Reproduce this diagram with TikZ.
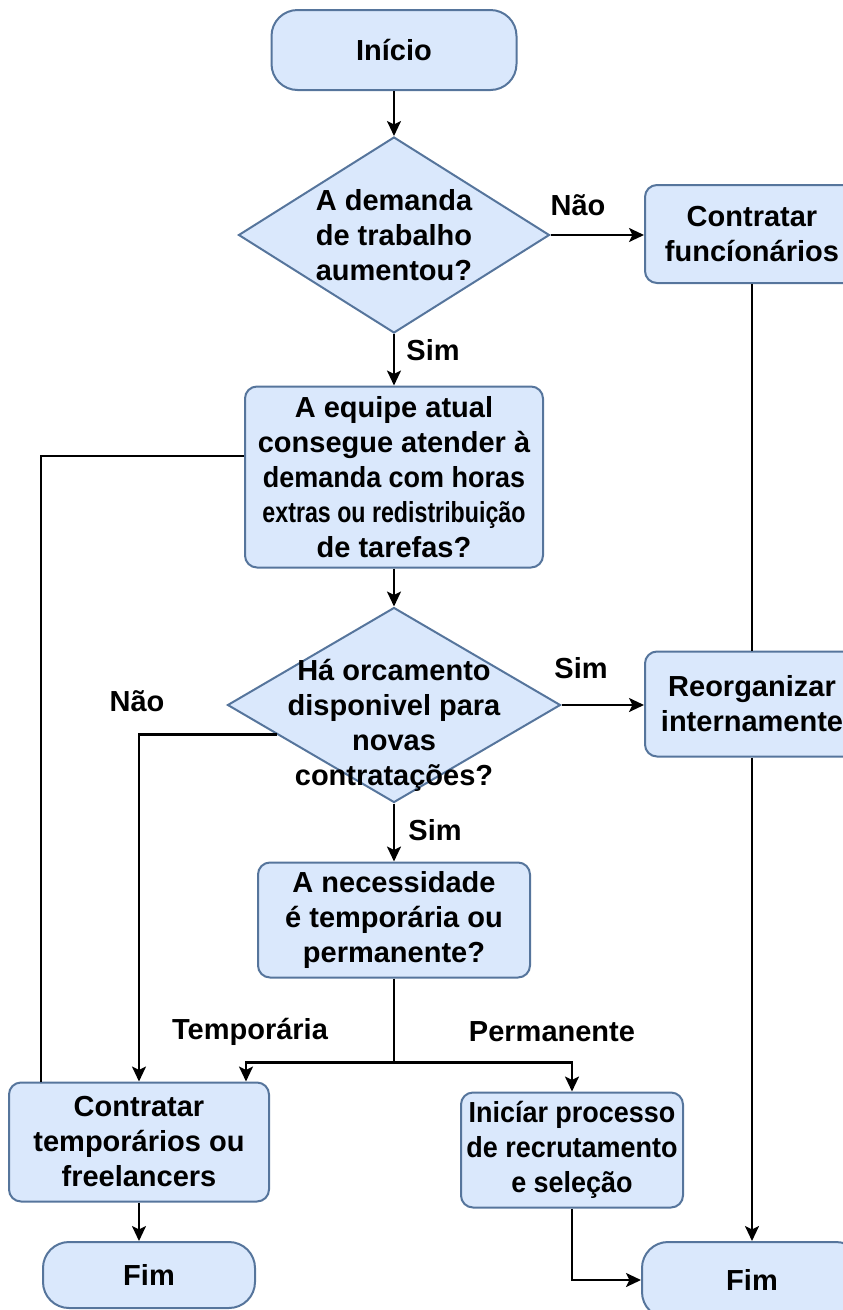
\documentclass[tikz,border=0pt]{standalone}
\usepackage{fontspec}
\setmainfont{Liberation Sans}
\newfontfamily\narrowfont{Liberation Sans}[FakeStretch=0.8]
\newfontfamily\slimfont{Liberation Sans}[FakeStretch=0.93]
\usetikzlibrary{arrows.meta,shapes.geometric,calc}
\definecolor{boxfill}{HTML}{DAE8FC}
\definecolor{boxline}{HTML}{56759C}

\begin{document}
\begin{tikzpicture}[x=1pt, y=-1pt, >={Stealth[length=15pt,width=14pt,inset=3.5pt]},
  every node/.style={font=\bfseries\fontsize{29}{35}\selectfont, align=center},
  flowbox/.style={draw=boxline, fill=boxfill, line width=2pt, rounded corners=12pt, inner sep=0pt},
  termbox/.style={flowbox, rounded corners=26pt},
  decision/.style={draw=boxline, fill=boxfill, line width=2pt, diamond, inner sep=0pt},
  arrowline/.style={line width=2.4pt}]
  \clip (0,0) rectangle (843,1310);

  % boxes
  \node[termbox, minimum width=245pt, minimum height=80pt] (start) at (394,50) {Início};
  \node[decision, minimum width=311pt, minimum height=196pt] (dem) at (394,235) {};
  \node (demtext) at (dem) {A demanda\\de trabalho\\aumentou?};
  \node[flowbox, minimum width=214pt, minimum height=98pt] (hire) at (752,234) {Contratar\\funcíonários};
  \node[flowbox, minimum width=298pt, minimum height=181pt] (team) at (394,477)
    {A equipe atual\\consegue atender à\\{\slimfont demanda com horas}\\{\narrowfont extras ou redistribuição}\\de tarefas?};
  \node[decision, minimum width=333pt, minimum height=195pt] (budget) at (394,705) {};
  \node (budgettext) at (394,725) {Há orcamento\\disponivel para\\novas\\contratações?};
  \node[flowbox, minimum width=214pt, minimum height=105pt] (reorg) at (752,704) {Reorganizar\\internamente};
  \node[flowbox, minimum width=272pt, minimum height=115pt] (need) at (394,920) {A necessidade\\é temporária ou\\permanente?};
  \node[flowbox, minimum width=260pt, minimum height=119pt] (temp) at (139,1142) {Contratar\\temporários ou\\freelancers};
  \node[flowbox, minimum width=222pt, minimum height=115pt, font=\slimfont\bfseries\fontsize{29}{35}\selectfont] (recruit) at (572,1150)
    {Inicíar processo\\de recrutamento\\e seleção};
  \node[termbox, minimum width=212pt, minimum height=66pt] (endL) at (149,1275) {Fim};
  \node[termbox, minimum width=220pt, minimum height=76pt] (endR) at (752,1280) {Fim};

  % labels
  \node (noA) at (578,205) {Não};
  \node (yesA) at (433,350) {Sim};
  \node (yesB) at (581,668) {Sim};
  \node (noB) at (137,701) {Não};
  \node (yesC) at (435,830) {Sim};
  \node (tempLbl) at (250,1032) {Temporária};
  \node (permLbl) at (552,1032) {Permanente};

  % connectors
  \draw[arrowline, ->] (start.south) -- (dem.north);
  \draw[arrowline, ->] (dem.east) -- (dem.east -| hire.west);
  \draw[arrowline] (hire.south) -- (reorg.north);
  \draw[arrowline, ->] (dem.south) -- (team.north);
  \draw[arrowline] ($(team.west)+(0,-21)$) -| ($(temp.north west)+(33,0)$);
  \draw[arrowline, ->] (team.south) -- (budget.north);
  \draw[arrowline, ->] (budget.east) -- (budget.east -| reorg.west);
  \draw[arrowline, ->] ($(budget.west)!0.3!(budget.south)$) -| (temp.north);
  \draw[arrowline, ->] (budget.south) -- (need.north);
  \draw[arrowline] (need.south) -- ++(0,84) coordinate (split);
  \draw[arrowline, ->] (split) -| ($(temp.north east)+(-24,0)$);
  \draw[arrowline, ->] (split) -| (recruit.north);
  \draw[arrowline, ->] (temp.south) -- (temp.south |- endL.north);
  \draw[arrowline, ->] (reorg.south) -- (endR.north);
  \draw[arrowline, ->] (recruit.south) |- (endR.west);
\end{tikzpicture}
\end{document}
